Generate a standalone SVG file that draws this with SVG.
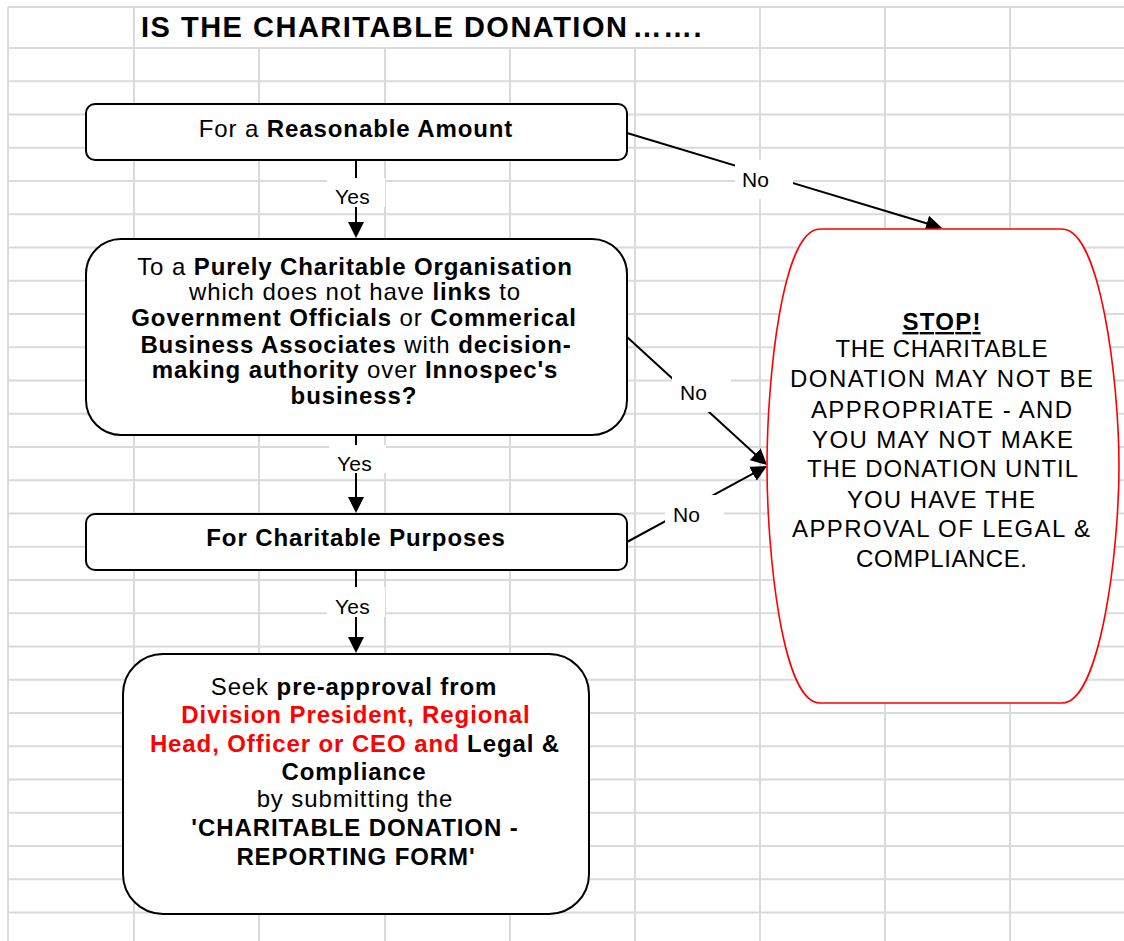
<svg xmlns="http://www.w3.org/2000/svg" width="1124" height="941" viewBox="0 0 1124 941">
<style>
.grid{fill:none;stroke:#dadada;stroke-width:2}
.box{fill:#fff;stroke:#000;stroke-width:2}
.stopbox{fill:#fff;stroke:#ff0000;stroke-width:1.6}
.conn{fill:none;stroke:#000;stroke-width:2}
.lblbg{fill:#fff;stroke:none}
text{font-family:"Liberation Sans",Arial,Helvetica,sans-serif;fill:#000}
.t{font-size:24px;letter-spacing:0.9px;text-anchor:middle}
.b{font-weight:bold}
.red{fill:#ff0000}
.lbl{font-size:21px;letter-spacing:0.2px}
.title{font-size:29px;font-weight:bold;letter-spacing:1.5px}
.st{font-size:24px;text-anchor:middle}
</style>
<defs>
<marker id="arr" viewBox="0 0 16 16" markerWidth="16" markerHeight="16" refX="10" refY="8" orient="auto" markerUnits="userSpaceOnUse">
<path d="M0,0 L16,8 L0,16 z" fill="#000"/>
</marker>
</defs>
<rect width="1124" height="941" fill="#fff"/>
<g id="grid">
<path class="grid" d="M8,7H1124M8,48H1124M8,81.25H1124M8,114.5H1124M8,147.75H1124M8,181H1124M8,214.25H1124M8,247.5H1124M8,280.75H1124M8,314H1124M8,347.25H1124M8,380.5H1124M8,413.75H1124M8,447H1124M8,480.25H1124M8,513.5H1124M8,546.75H1124M8,580H1124M8,613.25H1124M8,646.5H1124M8,679.75H1124M8,713H1124M8,746.25H1124M8,779.5H1124M8,812.75H1124M8,846H1124M8,879.25H1124M8,912.5H1124"/>
<path class="grid" d="M8,7V941M134,7V941M760,7V941M885,7V941M1010,7V941M259,48V941M385,48V941M510,48V941M635,48V941"/>
</g>
<g id="title">
<rect x="136" y="9" width="622" height="37" fill="#fff"/>
<text class="title" x="141" y="37">IS THE CHARITABLE DONATION<tspan dx="4">…….</tspan></text>
</g>
<g id="connectors">
<line class="conn" x1="356" y1="160" x2="356" y2="232" marker-end="url(#arr)"/>
<line class="conn" x1="356" y1="435" x2="356" y2="507" marker-end="url(#arr)"/>
<line class="conn" x1="356" y1="570" x2="356" y2="647" marker-end="url(#arr)"/>
<line class="conn" x1="627" y1="133" x2="936.3" y2="226.3" marker-end="url(#arr)"/>
<line class="conn" x1="627" y1="337" x2="762.6" y2="461" marker-end="url(#arr)"/>
<line class="conn" x1="627" y1="542" x2="761.7" y2="468.9" marker-end="url(#arr)"/>
<rect class="lblbg" x="327" y="178" width="58" height="29"/>
<text class="lbl" x="335" y="204">Yes</text>
<rect class="lblbg" x="329" y="445" width="57" height="28"/>
<text class="lbl" x="337" y="471">Yes</text>
<rect class="lblbg" x="327" y="587" width="58" height="30"/>
<text class="lbl" x="335" y="614">Yes</text>
<rect class="lblbg" x="735" y="160" width="58" height="39"/>
<text class="lbl" x="742" y="187">No</text>
<rect class="lblbg" x="672" y="375" width="59" height="37"/>
<text class="lbl" x="680" y="400">No</text>
<rect class="lblbg" x="665" y="495" width="59" height="38"/>
<text class="lbl" x="673" y="522">No</text>
</g>
<g id="node-amount">
<rect class="box" x="86" y="104" width="541" height="56" rx="9" ry="9"/>
<text class="t" x="356" y="137">For a <tspan class="b">Reasonable Amount</tspan></text>
</g>
<g id="node-organisation">
<rect class="box" x="86" y="239" width="541" height="196" rx="35" ry="35"/>
<text class="t" x="355" y="275">To a <tspan class="b">Purely Charitable Organisation</tspan></text>
<text class="t" x="355" y="300">which does not have <tspan class="b">links</tspan> to</text>
<text class="t" x="354" y="326"><tspan class="b">Government Officials</tspan> or <tspan class="b">Commerical</tspan></text>
<text class="t" x="356" y="353"><tspan class="b">Business Associates</tspan> with <tspan class="b">decision-</tspan></text>
<text class="t" x="355" y="378"><tspan class="b">making authority</tspan> over <tspan class="b">Innospec's</tspan></text>
<text class="t b" x="354" y="404">business?</text>
</g>
<g id="node-purposes">
<rect class="box" x="86" y="514" width="541" height="56" rx="9" ry="9"/>
<text class="t b" x="356" y="546">For Charitable Purposes</text>
</g>
<g id="node-approval">
<rect class="box" x="123" y="654" width="466" height="260" rx="40" ry="40"/>
<text class="t" x="354" y="695">Seek <tspan class="b">pre-approval from</tspan></text>
<text class="t b red" x="356" y="723">Division President, Regional</text>
<text class="t b" x="355" y="752"><tspan class="red">Head, Officer or CEO and</tspan> Legal &amp;</text>
<text class="t b" x="354" y="780">Compliance</text>
<text class="t" x="355" y="807">by submitting the</text>
<text class="t b" x="355" y="836">'CHARITABLE DONATION -</text>
<text class="t b" x="356" y="865">REPORTING FORM'</text>
</g>
<g id="node-stop">
<path class="stopbox" d="M820,229 H1062 C1100,229 1119,380 1119,466 C1119,552 1100,703 1062,703 H820 C782,703 767,552 767,466 C767,380 782,229 820,229 Z"/>
<text class="st b" x="941.5" y="330" text-decoration="underline" textLength="78" lengthAdjust="spacing">STOP!</text>
<text class="st" x="941.5" y="357" textLength="212" lengthAdjust="spacing">THE CHARITABLE</text>
<text class="st" x="941.5" y="387" textLength="303" lengthAdjust="spacing">DONATION MAY NOT BE</text>
<text class="st" x="941.5" y="418" textLength="261" lengthAdjust="spacing">APPROPRIATE - AND</text>
<text class="st" x="942.5" y="448" textLength="261" lengthAdjust="spacing">YOU MAY NOT MAKE</text>
<text class="st" x="942.5" y="477" textLength="271" lengthAdjust="spacing">THE DONATION UNTIL</text>
<text class="st" x="941" y="508" textLength="188" lengthAdjust="spacing">YOU HAVE THE</text>
<text class="st" x="941" y="537" textLength="298" lengthAdjust="spacing">APPROVAL OF LEGAL &amp;</text>
<text class="st" x="941.5" y="567" textLength="171" lengthAdjust="spacing">COMPLIANCE.</text>
</g>
</svg>
